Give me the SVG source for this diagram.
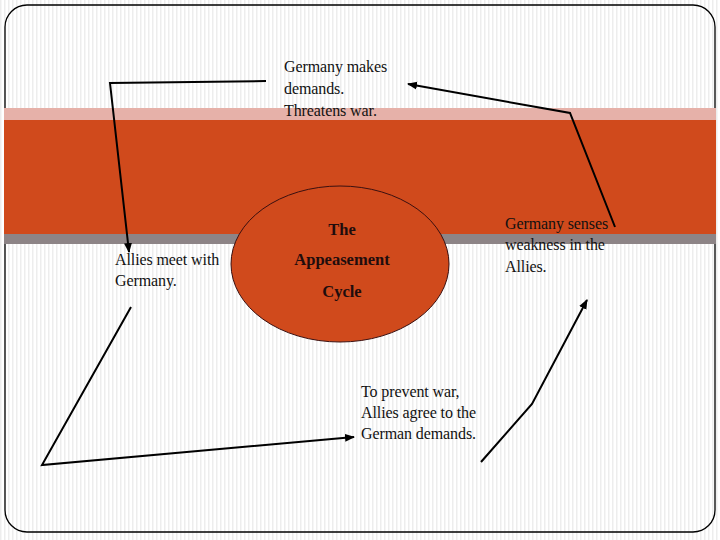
<svg xmlns="http://www.w3.org/2000/svg" width="720" height="540" viewBox="0 0 720 540">
<defs>
<pattern id="stripes" width="4" height="540" patternUnits="userSpaceOnUse">
<rect width="4" height="540" fill="#ffffff"/>
<rect x="0" width="1.5" height="540" fill="#ededed"/>
</pattern>
<marker id="arr" viewBox="0 0 10 10" refX="9" refY="5" markerWidth="5" markerHeight="5" orient="auto" markerUnits="strokeWidth">
<path d="M0,1 L10,5 L0,9 Z" fill="#000"/>
</marker>
<style>
.t{font-family:"Liberation Serif","Times New Roman",serif;font-size:16px;fill:#111;letter-spacing:-0.1px}
.c{font-family:"Liberation Serif","Times New Roman",serif;font-size:16.5px;font-weight:bold;fill:#1f0d0d;text-anchor:middle}
.ln{fill:none;stroke:#000;stroke-width:2;stroke-linejoin:miter}
</style>
</defs>
<rect width="720" height="540" fill="url(#stripes)"/>
<rect x="5" y="5" width="710" height="527" rx="22" ry="22" fill="none" stroke="#000" stroke-width="1.3"/>
<g id="band">
<rect x="4" y="108" width="712" height="12" fill="#e6b1a9"/>
<rect x="4" y="120" width="712" height="114" fill="#d04a1c"/>
<rect x="4" y="234" width="712" height="10" fill="#8d8486"/>
</g>
<g id="cycle">
<ellipse cx="340" cy="264" rx="109" ry="78" fill="#d04a1c" stroke="#3a1010" stroke-width="1"/>
<text class="c" x="342" y="235">The</text>
<text class="c" x="342" y="265">Appeasement</text>
<text class="c" x="342" y="297">Cycle</text>
</g>
<g id="demands">
<text class="t" x="284" y="72">Germany makes</text>
<text class="t" x="284" y="94">demands.</text>
<text class="t" x="284" y="116">Threatens war.</text>
</g>
<g id="meet">
<text class="t" x="115" y="265">Allies meet with</text>
<text class="t" x="115" y="286">Germany.</text>
</g>
<g id="agree">
<text class="t" x="361" y="397">To prevent war,</text>
<text class="t" x="361" y="418">Allies agree to the</text>
<text class="t" x="361" y="439">German demands.</text>
</g>
<g id="weakness">
<text class="t" x="505" y="229">Germany senses</text>
<text class="t" x="505" y="250">weakness in the</text>
<text class="t" x="505" y="272">Allies.</text>
</g>
<g id="connectors">
<polyline class="ln" points="266,81 110,83 129,252" marker-end="url(#arr)"/>
<polyline class="ln" points="131,307 42,465 354,437" marker-end="url(#arr)"/>
<polyline class="ln" points="481,462 532,404 587,300" marker-end="url(#arr)"/>
<polyline class="ln" points="615,227 570,113 408,84" marker-end="url(#arr)"/>
</g>
</svg>
